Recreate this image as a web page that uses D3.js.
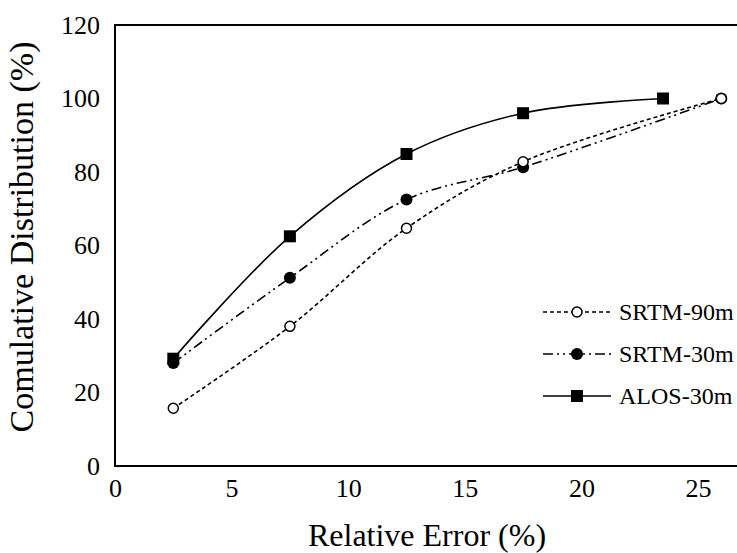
<!DOCTYPE html>
<html>
<head>
<meta charset="utf-8">
<script src="https://cdn.jsdelivr.net/npm/d3@7"></script>
<style>
  html, body { margin: 0; padding: 0; background: #fff; }
  svg { display: block; }
</style>
</head>
<body>
<svg id="chart" width="737" height="553"></svg>
<script>
// ---- data ----
const xTicks = [0, 5, 10, 15, 20, 25];
const yTicks = [0, 20, 40, 60, 80, 100, 120];
const srtm90X = [2.5, 7.5, 12.5, 17.5, 26];
const srtm90Y = [15.7, 38.0, 64.7, 82.8, 100];
const srtm30X = [2.5, 7.5, 12.5, 17.5, 26];
const srtm30Y = [28.0, 51.2, 72.5, 81.3, 100];
const alosX = [2.5, 7.5, 12.5, 17.5, 23.5];
const alosY = [29.2, 62.5, 84.9, 96.0, 100];
const seriesNames = ["SRTM-90m", "SRTM-30m", "ALOS-30m"];

const FONT = "Liberation Serif";
const svg = d3.select("#chart").attr("font-family", FONT);
const plotLeft = 115, plotTop = 25, plotBottom = 466;

const x = d3.scaleLinear().domain([0, 25]).range([plotLeft, 698]);
const y = d3.scaleLinear().domain([0, 120]).range([plotBottom, plotTop]);

// plot frame (extends beyond right edge, as in the cropped reference)
svg.append("rect")
  .attr("x", plotLeft).attr("y", plotTop)
  .attr("width", 760 - plotLeft).attr("height", plotBottom - plotTop)
  .attr("fill", "none").attr("stroke", "#000").attr("stroke-width", 2);

// axes (labels only)
const xAxis = d3.axisBottom(x).tickValues(xTicks).tickSize(0).tickPadding(13);
svg.append("g").attr("transform", `translate(0,${plotBottom})`).call(xAxis)
  .attr("font-family", FONT)
  .call(g => g.select(".domain").remove())
  .selectAll("text").attr("font-family", FONT).attr("font-size", 26).attr("fill", "#000");

const yAxis = d3.axisLeft(y).tickValues(yTicks).tickSize(0).tickPadding(15);
svg.append("g").attr("transform", `translate(${plotLeft},0)`).call(yAxis)
  .attr("font-family", FONT)
  .call(g => g.select(".domain").remove())
  .selectAll("text").attr("font-family", FONT).attr("font-size", 26).attr("fill", "#000");

// axis titles
svg.append("text").attr("x", 427).attr("y", 546).attr("text-anchor", "middle")
  .attr("font-family", FONT).attr("font-size", 32).attr("fill", "#000").text("Relative Error (%)");
svg.append("text").attr("transform", "translate(33,237) rotate(-90)")
  .attr("text-anchor", "middle").attr("font-family", FONT).attr("font-size", 34)
  .attr("fill", "#000").text("Comulative Distribution (%)");

const series = [
  { name: seriesNames[0], xs: srtm90X, ys: srtm90Y, dash: "4,3", marker: "open" },
  { name: seriesNames[1], xs: srtm30X, ys: srtm30Y, dash: "10,4,2,4,2,4", marker: "dot" },
  { name: seriesNames[2], xs: alosX, ys: alosY, dash: null, marker: "square" }
];

const line = d3.line().x(d => x(d[0])).y(d => y(d[1])).curve(d3.curveCatmullRom.alpha(0.5));

function drawMarker(g, cx, cy, type) {
  if (type === "open") {
    g.append("circle").attr("cx", cx).attr("cy", cy).attr("r", 5)
      .attr("fill", "#fff").attr("stroke", "#000").attr("stroke-width", 1.5);
  } else if (type === "dot") {
    g.append("circle").attr("cx", cx).attr("cy", cy).attr("r", 6).attr("fill", "#000");
  } else {
    g.append("rect").attr("x", cx - 6).attr("y", cy - 6).attr("width", 12).attr("height", 12).attr("fill", "#000");
  }
}

series.forEach(s => {
  const pts = s.xs.map((v, i) => [v, s.ys[i]]);
  svg.append("path").attr("d", line(pts)).attr("fill", "none")
    .attr("stroke", "#000").attr("stroke-width", 1.6)
    .attr("stroke-dasharray", s.dash);
});
// markers drawn in reverse order so earlier series sit on top like the reference
[series[2], series[1], series[0]].forEach(s => {
  const g = svg.append("g");
  s.xs.forEach((v, i) => drawMarker(g, x(v), y(s.ys[i]), s.marker));
});

// legend
const legY = [312, 354, 396];
series.forEach((s, i) => {
  const g = svg.append("g");
  g.append("line").attr("x1", 543).attr("x2", 611).attr("y1", legY[i]).attr("y2", legY[i])
    .attr("stroke", "#000").attr("stroke-width", 1.6).attr("stroke-dasharray", s.dash);
  drawMarker(g, 577, legY[i], s.marker);
  g.append("text").attr("x", 619).attr("y", legY[i] + 8)
    .attr("font-family", FONT).attr("font-size", 24).attr("fill", "#000").text(s.name);
});
</script>
</body>
</html>
